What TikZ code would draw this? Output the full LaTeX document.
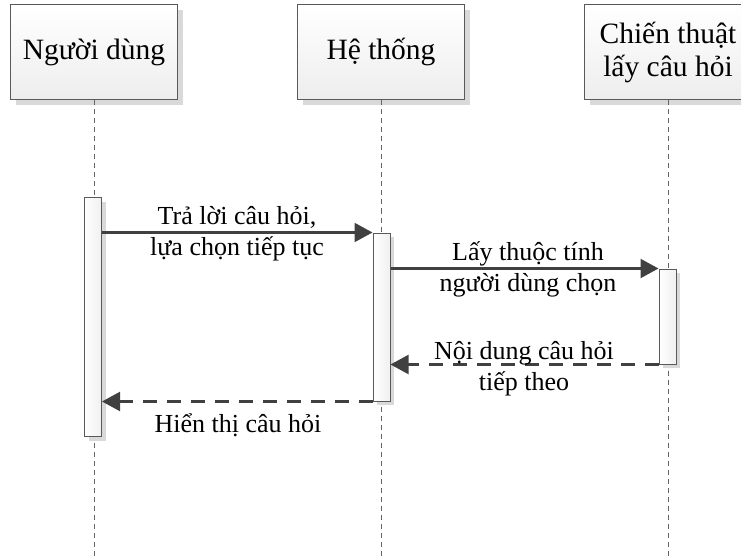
\documentclass[tikz,border=0pt]{standalone}
\usepackage{fontspec}
\setmainfont{Liberation Serif}
\usetikzlibrary{arrows.meta,shadows}
\definecolor{edge}{HTML}{595959}
\definecolor{arrowc}{HTML}{404040}
\definecolor{shadowc}{HTML}{D9D9D9}
\begin{document}
\begin{tikzpicture}[x=1pt,y=-1pt,
  hdr/.style={draw=edge, line width=1pt, top color=white, bottom color=black!7,
    minimum width=167pt, minimum height=95pt, align=center, inner sep=0pt,
    font=\fontsize{29.5}{33}\selectfont,
    drop shadow={shadow xshift=5pt, shadow yshift=-5pt, fill=shadowc, opacity=1}},
  actbar/.style={draw=edge, line width=1pt, left color=white, right color=black!6,
    minimum width=17pt, inner sep=0pt,
    drop shadow={shadow xshift=4pt, shadow yshift=-4pt, fill=shadowc, opacity=1}},
  lifeline/.style={draw=black!60, line width=0.7pt, dash pattern=on 5pt off 4pt},
  msg/.style={draw=arrowc, line width=2.2pt, -{Triangle[length=18pt,width=19pt]}},
  ret/.style={msg, dash pattern=on 14pt off 10pt},
  lbl/.style={align=center, inner sep=0pt, font=\fontsize{26}{31}\selectfont, fill=none}
]
\useasboundingbox (0,0) rectangle (741,556);
% header boxes
\node[hdr] (u) at (94,52.5) {Người dùng};
\node[hdr] (s) at (381,52.5) {Hệ thống};
\node[hdr] (c) at (668,52.5) {Chiến thuật\\lấy câu hỏi};
% lifeline ends
\coordinate (ue) at (94,556);
\coordinate (se) at (381,556);
\coordinate (ce) at (668,556);
\draw[lifeline] (u.south) -- (ue);
\draw[lifeline] (s.south) -- (se);
\draw[lifeline] (c.south) -- (ce);
% activation bars
\node[actbar, minimum height=239pt] (b1) at (93,317) {};
\node[actbar, minimum height=168pt] (b2) at (381.5,317) {};
\node[actbar, minimum height=95pt] (b3) at (667.5,316.5) {};
% messages
\draw[msg] (b1.east |- b2.north) -- (b2.north west);
\draw[msg] (b2.east |- b3.north) -- (b3.north west);
\draw[ret] (b3.south west) -- (b2.east |- b3.south);
\draw[ret] (b2.south west) -- (b1.east |- b2.south);
% labels (base = baseline of the last line)
\node[lbl, anchor=base] (l1) at (237,255) {Trả lời câu hỏi,\\lựa chọn tiếp tục};
\node[lbl, anchor=base] (l2) at (528,291) {Lấy thuộc tính\\người dùng chọn};
\node[lbl, anchor=base] (l3) at (524,390) {Nội dung câu hỏi\\tiếp theo};
\node[lbl, anchor=base] (l4) at (238,432) {Hiển thị câu hỏi};
\end{tikzpicture}
\end{document}
